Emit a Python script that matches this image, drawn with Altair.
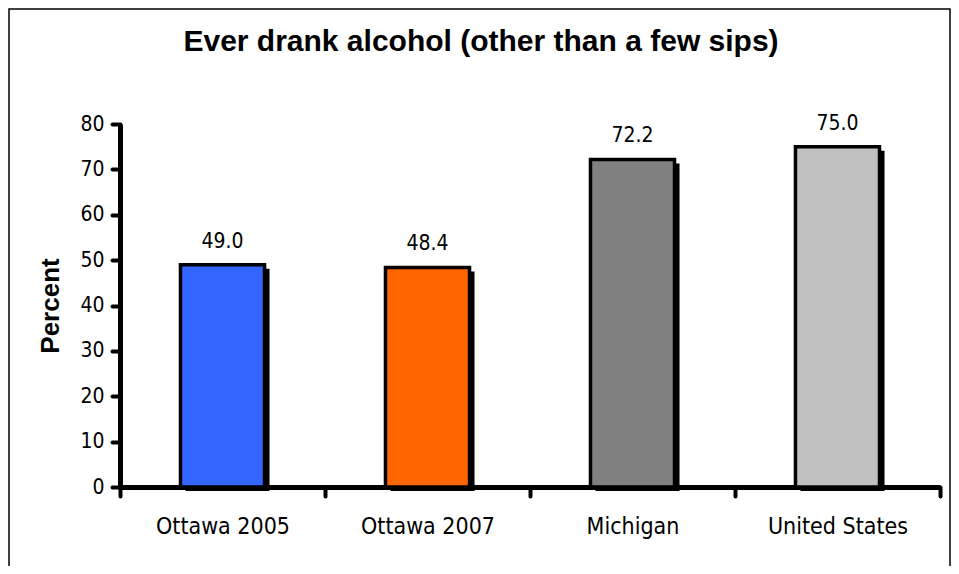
import altair as alt
import pandas as pd

categories = ["Ottawa 2005", "Ottawa 2007", "Michigan", "United States"]
values = [49.0, 48.4, 72.2, 75.0]
value_labels = ["49.0", "48.4", "72.2", "75.0"]
bar_colors = ["#3366FF", "#FF6600", "#808080", "#C0C0C0"]
y_ticks = [0, 10, 20, 30, 40, 50, 60, 70, 80]
title_text = "Ever drank alcohol (other than a few sips)"
y_title = "Percent"

df = pd.DataFrame({"cat": categories, "val": values, "label": value_labels, "color": bar_colors})

W, H = 820, 363
NARROW = "Liberation Sans Narrow, Arial Narrow, DejaVu Sans Condensed, sans-serif"
BOLD = "Liberation Sans, Arial, sans-serif"

x = alt.X("cat:N", sort=categories,
          scale=alt.Scale(paddingInner=0, paddingOuter=0),
          axis=alt.Axis(title=None, labelAngle=0, tickBand="extent", domainWidth=5, domainColor="black",
                        tickWidth=4, tickSize=9, tickColor="black", tickCap="round",
                        labelFont=NARROW, labelFontSize=23, labelColor="black", labelPadding=19))
y = alt.Y("val:Q", scale=alt.Scale(domain=[0, 80]),
          axis=alt.Axis(values=y_ticks, title=y_title, grid=False, domainWidth=5, domainColor="black",
                        tickWidth=4, tickSize=8, tickColor="black", tickCap="round",
                        labelFont=NARROW, labelFontSize=21, labelColor="black", labelPadding=8,
                        titleFont=BOLD, titleFontSize=26, titleFontWeight="bold", titleColor="black",
                        titlePadding=16))

base = alt.Chart(df)

shadow = base.mark_bar(width={"band": 0.41}, color="black", xOffset=5, yOffset=4).encode(x=x, y=y)
bars = base.mark_bar(width={"band": 0.41}, stroke="black", strokeWidth=3.5).encode(
    x=x, y=y, color=alt.Color("color:N", scale=None))
texts = base.mark_text(dy=-17, baseline="alphabetic", font=NARROW, fontSize=21, color="black").encode(
    x=x, y=y, text="label:N")

one = alt.Chart(pd.DataFrame({"t": [title_text]}))
frame = one.mark_rect(fillOpacity=0, stroke="black", strokeWidth=1.5).encode(
    x=alt.value(-111), x2=alt.value(830), y=alt.value(-115), y2=alt.value(520))
title = one.mark_text(font=BOLD, fontSize=30, fontWeight="bold", baseline="alphabetic", align="center",
                      color="black").encode(x=alt.value(361), y=alt.value(-73), text="t:N")

chart = alt.layer(frame, title, shadow, bars, texts).properties(
    width=W, height=H,
    padding={"left": 112, "top": 116, "right": 11, "bottom": 79},
    autosize=alt.AutoSizeParams(type="none"),
    background="white",
).configure_view(stroke="transparent")

chart.save("out.html", embed_options={"renderer": "svg", "actions": False})
